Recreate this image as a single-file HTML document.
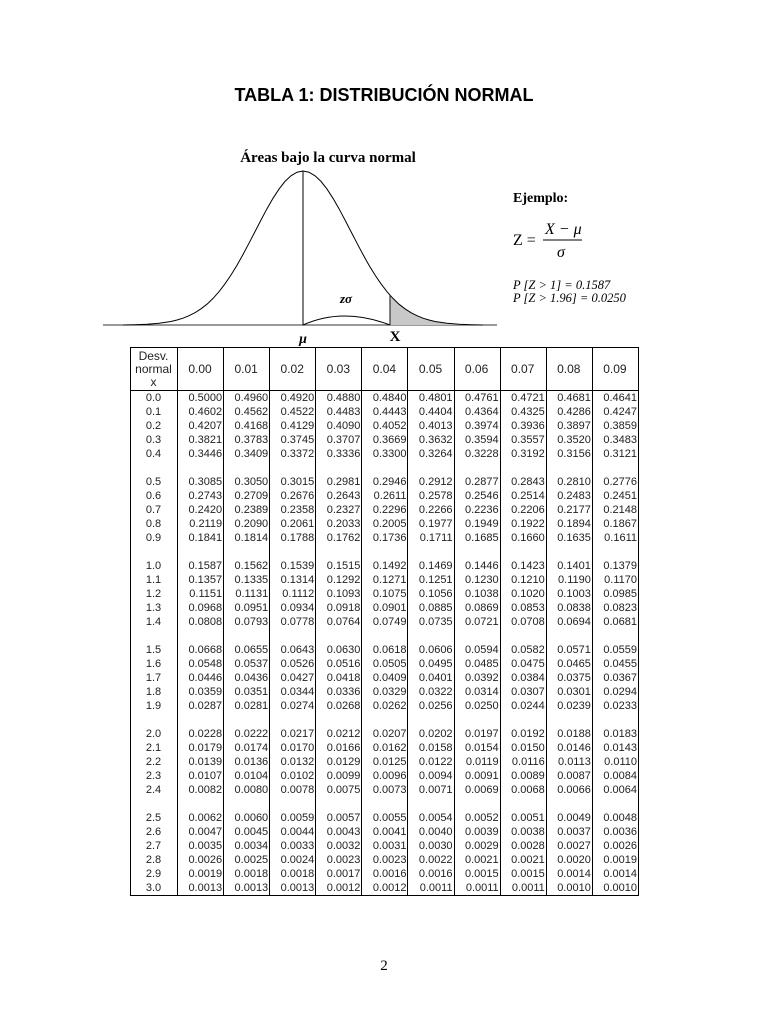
<!DOCTYPE html>
<html><head><meta charset="utf-8"><style>
body{margin:0;width:768px;height:1024px;background:#fff;position:relative;font-family:"Liberation Sans",sans-serif;}
.t{position:absolute;}
table{position:absolute;left:130px;top:347px;width:509px;border-collapse:collapse;table-layout:fixed;border:1.5px solid #000;font-size:11px;color:#222;}
td{border-left:1px solid #000;border-right:1px solid #000;padding:0 1px 0 0;height:14px;line-height:14px;text-align:right;}
td:first-child{text-align:center;width:45px;}
thead td{height:42px;line-height:13px;text-align:center;border-bottom:1px solid #000;vertical-align:middle;font-size:12px;}
tr.b td{height:14px;}
</style></head><body>
<div class="t" style="left:0;width:768px;top:85px;text-align:center;font-weight:bold;font-size:18px;">TABLA 1: DISTRIBUCIÓN NORMAL</div>
<svg class="t" style="left:0;top:0" width="768" height="350">
<text x="328" y="162" text-anchor="middle" font-family="Liberation Serif" font-weight="bold" font-size="15">Áreas bajo la curva normal</text>
<line x1="103" y1="325" x2="497" y2="325" stroke="#333" stroke-width="1"/>
<polygon points="390,295.5 399,304.2 411,312.7 423,318.2 435,321.5 447,323.3 459,324.2 471,324.7 471,325 390,325" fill="#c8c8c8"/>
<polyline fill="none" stroke="#000" stroke-width="1" points="123,325 135,324.7 147,324.2 159,323.3 171,321.5 177,320 183,318.2 189,315.7 195,312.7 201,308.8 207,304.2 213,298.4 219,291.7 225,283.8 231,275 237,265.3 243,254.5 249,243.2 255,231.6 261,220 267,208.7 273,198.3 279,189.1 285,181.4 291,175.8 297,172.2 303,171 309,172.2 315,175.8 321,181.4 327,189.1 333,198.3 339,208.7 345,220 351,231.6 357,243.2 363,254.5 369,265.3 375,275 381,283.8 387,291.7 393,298.4 399,304.2 405,308.8 411,312.7 417,315.7 423,318.2 429,320 435,321.5 447,323.3 459,324.2 471,324.7 483,325"/>
<line x1="303" y1="171" x2="303" y2="325" stroke="#000"/>
<line x1="390" y1="295" x2="390" y2="325" stroke="#333" stroke-width="1.2"/>
<path d="M303,325 Q343,307 390,325" fill="none" stroke="#000"/>
<text x="346" y="303" text-anchor="middle" font-family="Liberation Serif" font-weight="bold" font-style="italic" font-size="13">zσ</text>
<text x="303" y="343" text-anchor="middle" font-family="Liberation Serif" font-weight="bold" font-style="italic" font-size="14">μ</text>
<text x="395" y="341" text-anchor="middle" font-family="Liberation Serif" font-weight="bold" font-size="15">X</text>
<text x="513" y="202" font-family="Liberation Serif" font-weight="bold" font-size="14">Ejemplo:</text>
<text x="513" y="245" font-family="Liberation Serif" font-size="16">Z =</text>
<text x="545" y="234" font-family="Liberation Serif" font-style="italic" font-size="16">X − μ</text>
<line x1="543" y1="240" x2="582" y2="240" stroke="#000"/>
<text x="557" y="257" font-family="Liberation Serif" font-style="italic" font-size="16">σ</text>
<text x="513" y="289" font-family="Liberation Serif" font-style="italic" font-size="12.5">P [Z &gt; 1] = 0.1587</text>
<text x="513" y="302" font-family="Liberation Serif" font-style="italic" font-size="12.5">P [Z &gt; 1.96] = 0.0250</text>
</svg>
<table>
<thead><tr><td>Desv.<br>normal<br>x</td><td>0.00</td><td>0.01</td><td>0.02</td><td>0.03</td><td>0.04</td><td>0.05</td><td>0.06</td><td>0.07</td><td>0.08</td><td>0.09</td></tr></thead>
<tbody>
<tr><td>0.0</td><td>0.5000</td><td>0.4960</td><td>0.4920</td><td>0.4880</td><td>0.4840</td><td>0.4801</td><td>0.4761</td><td>0.4721</td><td>0.4681</td><td>0.4641</td></tr>
<tr><td>0.1</td><td>0.4602</td><td>0.4562</td><td>0.4522</td><td>0.4483</td><td>0.4443</td><td>0.4404</td><td>0.4364</td><td>0.4325</td><td>0.4286</td><td>0.4247</td></tr>
<tr><td>0.2</td><td>0.4207</td><td>0.4168</td><td>0.4129</td><td>0.4090</td><td>0.4052</td><td>0.4013</td><td>0.3974</td><td>0.3936</td><td>0.3897</td><td>0.3859</td></tr>
<tr><td>0.3</td><td>0.3821</td><td>0.3783</td><td>0.3745</td><td>0.3707</td><td>0.3669</td><td>0.3632</td><td>0.3594</td><td>0.3557</td><td>0.3520</td><td>0.3483</td></tr>
<tr><td>0.4</td><td>0.3446</td><td>0.3409</td><td>0.3372</td><td>0.3336</td><td>0.3300</td><td>0.3264</td><td>0.3228</td><td>0.3192</td><td>0.3156</td><td>0.3121</td></tr>
<tr class="b"><td></td><td></td><td></td><td></td><td></td><td></td><td></td><td></td><td></td><td></td><td></td></tr>
<tr><td>0.5</td><td>0.3085</td><td>0.3050</td><td>0.3015</td><td>0.2981</td><td>0.2946</td><td>0.2912</td><td>0.2877</td><td>0.2843</td><td>0.2810</td><td>0.2776</td></tr>
<tr><td>0.6</td><td>0.2743</td><td>0.2709</td><td>0.2676</td><td>0.2643</td><td>0.2611</td><td>0.2578</td><td>0.2546</td><td>0.2514</td><td>0.2483</td><td>0.2451</td></tr>
<tr><td>0.7</td><td>0.2420</td><td>0.2389</td><td>0.2358</td><td>0.2327</td><td>0.2296</td><td>0.2266</td><td>0.2236</td><td>0.2206</td><td>0.2177</td><td>0.2148</td></tr>
<tr><td>0.8</td><td>0.2119</td><td>0.2090</td><td>0.2061</td><td>0.2033</td><td>0.2005</td><td>0.1977</td><td>0.1949</td><td>0.1922</td><td>0.1894</td><td>0.1867</td></tr>
<tr><td>0.9</td><td>0.1841</td><td>0.1814</td><td>0.1788</td><td>0.1762</td><td>0.1736</td><td>0.1711</td><td>0.1685</td><td>0.1660</td><td>0.1635</td><td>0.1611</td></tr>
<tr class="b"><td></td><td></td><td></td><td></td><td></td><td></td><td></td><td></td><td></td><td></td><td></td></tr>
<tr><td>1.0</td><td>0.1587</td><td>0.1562</td><td>0.1539</td><td>0.1515</td><td>0.1492</td><td>0.1469</td><td>0.1446</td><td>0.1423</td><td>0.1401</td><td>0.1379</td></tr>
<tr><td>1.1</td><td>0.1357</td><td>0.1335</td><td>0.1314</td><td>0.1292</td><td>0.1271</td><td>0.1251</td><td>0.1230</td><td>0.1210</td><td>0.1190</td><td>0.1170</td></tr>
<tr><td>1.2</td><td>0.1151</td><td>0.1131</td><td>0.1112</td><td>0.1093</td><td>0.1075</td><td>0.1056</td><td>0.1038</td><td>0.1020</td><td>0.1003</td><td>0.0985</td></tr>
<tr><td>1.3</td><td>0.0968</td><td>0.0951</td><td>0.0934</td><td>0.0918</td><td>0.0901</td><td>0.0885</td><td>0.0869</td><td>0.0853</td><td>0.0838</td><td>0.0823</td></tr>
<tr><td>1.4</td><td>0.0808</td><td>0.0793</td><td>0.0778</td><td>0.0764</td><td>0.0749</td><td>0.0735</td><td>0.0721</td><td>0.0708</td><td>0.0694</td><td>0.0681</td></tr>
<tr class="b"><td></td><td></td><td></td><td></td><td></td><td></td><td></td><td></td><td></td><td></td><td></td></tr>
<tr><td>1.5</td><td>0.0668</td><td>0.0655</td><td>0.0643</td><td>0.0630</td><td>0.0618</td><td>0.0606</td><td>0.0594</td><td>0.0582</td><td>0.0571</td><td>0.0559</td></tr>
<tr><td>1.6</td><td>0.0548</td><td>0.0537</td><td>0.0526</td><td>0.0516</td><td>0.0505</td><td>0.0495</td><td>0.0485</td><td>0.0475</td><td>0.0465</td><td>0.0455</td></tr>
<tr><td>1.7</td><td>0.0446</td><td>0.0436</td><td>0.0427</td><td>0.0418</td><td>0.0409</td><td>0.0401</td><td>0.0392</td><td>0.0384</td><td>0.0375</td><td>0.0367</td></tr>
<tr><td>1.8</td><td>0.0359</td><td>0.0351</td><td>0.0344</td><td>0.0336</td><td>0.0329</td><td>0.0322</td><td>0.0314</td><td>0.0307</td><td>0.0301</td><td>0.0294</td></tr>
<tr><td>1.9</td><td>0.0287</td><td>0.0281</td><td>0.0274</td><td>0.0268</td><td>0.0262</td><td>0.0256</td><td>0.0250</td><td>0.0244</td><td>0.0239</td><td>0.0233</td></tr>
<tr class="b"><td></td><td></td><td></td><td></td><td></td><td></td><td></td><td></td><td></td><td></td><td></td></tr>
<tr><td>2.0</td><td>0.0228</td><td>0.0222</td><td>0.0217</td><td>0.0212</td><td>0.0207</td><td>0.0202</td><td>0.0197</td><td>0.0192</td><td>0.0188</td><td>0.0183</td></tr>
<tr><td>2.1</td><td>0.0179</td><td>0.0174</td><td>0.0170</td><td>0.0166</td><td>0.0162</td><td>0.0158</td><td>0.0154</td><td>0.0150</td><td>0.0146</td><td>0.0143</td></tr>
<tr><td>2.2</td><td>0.0139</td><td>0.0136</td><td>0.0132</td><td>0.0129</td><td>0.0125</td><td>0.0122</td><td>0.0119</td><td>0.0116</td><td>0.0113</td><td>0.0110</td></tr>
<tr><td>2.3</td><td>0.0107</td><td>0.0104</td><td>0.0102</td><td>0.0099</td><td>0.0096</td><td>0.0094</td><td>0.0091</td><td>0.0089</td><td>0.0087</td><td>0.0084</td></tr>
<tr><td>2.4</td><td>0.0082</td><td>0.0080</td><td>0.0078</td><td>0.0075</td><td>0.0073</td><td>0.0071</td><td>0.0069</td><td>0.0068</td><td>0.0066</td><td>0.0064</td></tr>
<tr class="b"><td></td><td></td><td></td><td></td><td></td><td></td><td></td><td></td><td></td><td></td><td></td></tr>
<tr><td>2.5</td><td>0.0062</td><td>0.0060</td><td>0.0059</td><td>0.0057</td><td>0.0055</td><td>0.0054</td><td>0.0052</td><td>0.0051</td><td>0.0049</td><td>0.0048</td></tr>
<tr><td>2.6</td><td>0.0047</td><td>0.0045</td><td>0.0044</td><td>0.0043</td><td>0.0041</td><td>0.0040</td><td>0.0039</td><td>0.0038</td><td>0.0037</td><td>0.0036</td></tr>
<tr><td>2.7</td><td>0.0035</td><td>0.0034</td><td>0.0033</td><td>0.0032</td><td>0.0031</td><td>0.0030</td><td>0.0029</td><td>0.0028</td><td>0.0027</td><td>0.0026</td></tr>
<tr><td>2.8</td><td>0.0026</td><td>0.0025</td><td>0.0024</td><td>0.0023</td><td>0.0023</td><td>0.0022</td><td>0.0021</td><td>0.0021</td><td>0.0020</td><td>0.0019</td></tr>
<tr><td>2.9</td><td>0.0019</td><td>0.0018</td><td>0.0018</td><td>0.0017</td><td>0.0016</td><td>0.0016</td><td>0.0015</td><td>0.0015</td><td>0.0014</td><td>0.0014</td></tr>
<tr><td>3.0</td><td>0.0013</td><td>0.0013</td><td>0.0013</td><td>0.0012</td><td>0.0012</td><td>0.0011</td><td>0.0011</td><td>0.0011</td><td>0.0010</td><td>0.0010</td></tr>
</tbody></table>
<div class="t" style="left:0;width:768px;top:958px;text-align:center;font-family:'Liberation Serif',serif;font-size:15px;">2</div>
</body></html>
